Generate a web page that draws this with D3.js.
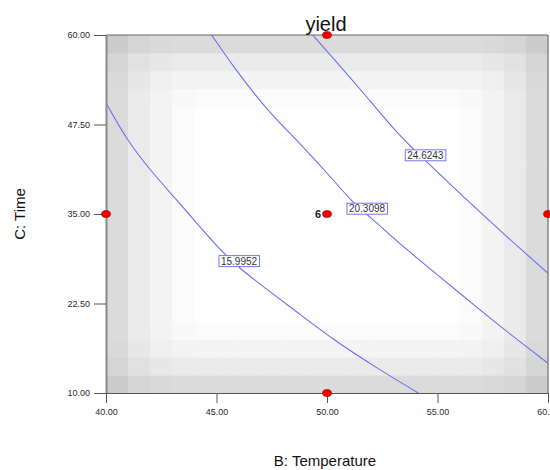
<!DOCTYPE html>
<html>
<head>
<meta charset="utf-8">
<script src="https://cdn.jsdelivr.net/npm/d3@7/dist/d3.min.js"></script>
<style>
  html, body { margin: 0; padding: 0; background: #fff; }
  svg { display: block; font-family: "Liberation Sans", Arial, sans-serif; }
</style>
</head>
<body>
<svg id="chart" width="550" height="470"></svg>
<script>
// Factor ranges and axis ticks
const temperatureTicks = [40, 45, 50, 55, 60];
const timeTicks = [10, 22.5, 35, 47.5, 60];

// Contour levels of predicted yield
const contourLevels = [15.9952, 20.3098, 24.6243];

// Traced isolines, [Temperature, Time]
const contourLow = [
  [40, 50.54], [40.94, 45.34], [41.99, 41.15], [43.20, 36.96], [44.25, 33.2],
  [45.31, 29.51], [46.14, 27.18], [47.12, 24.85], [48.63, 21.35], [50.29, 17.40],
  [52.40, 13.21], [54.13, 10]
];
const contourMid = [
  [44.78, 60], [45.76, 55.57], [47.27, 49.53], [48.78, 44.87], [50.29, 39.75],
  [51.19, 36.50], [51.80, 35.0], [53.61, 29.97], [55.11, 26.24], [56.92, 21.59],
  [58.43, 17.86], [60, 14.15]
];
const contourHigh = [
  [49.35, 60], [50.29, 56.75], [51.80, 51.38], [53.30, 45.80], [54.51, 42.30],
  [56.32, 36.96], [58.13, 31.83], [60, 26.72]
];
const contourLabelSpots = [[46.02, 28.42], [51.81, 35.74], [54.45, 43.2]];

// Design points [Temperature, Time] and replicate count at the centre
const designPoints = [[50, 60], [40, 35], [50, 35], [60, 35], [50, 10]];
const centerPoint = [50, 35];
const centerRuns = 6;

// Standard-error shading: darkness by cell distance from the nearest edge
const edgeShade = [36, 21, 11, 4, 1, 0, 0, 0, 0, 0];
const gridCells = 20;

const svg = d3.select("#chart");
const x = d3.scaleLinear().domain([40, 60]).range([106, 548]);
const y = d3.scaleLinear().domain([10, 60]).range([393, 35]);

// Shaded background grid
const cellT = d3.scaleLinear().domain([0, gridCells]).range(x.domain());
const cellt = d3.scaleLinear().domain([0, gridCells]).range(y.domain());
const cells = [];
d3.range(gridCells).forEach(i => d3.range(gridCells).forEach(j => {
  const a = edgeShade[Math.min(i, gridCells - 1 - i)];
  const b = edgeShade[Math.min(j, gridCells - 1 - j)];
  cells.push({ i, j, dark: Math.sqrt(a * a + b * b) });
}));
svg.append("g").selectAll("rect").data(cells).join("rect")
  .attr("x", d => x(cellT(d.i)))
  .attr("y", d => y(cellt(d.j + 1)))
  .attr("width", d => x(cellT(d.i + 1)) - x(cellT(d.i)) + 0.5)
  .attr("height", d => y(cellt(d.j)) - y(cellt(d.j + 1)) + 0.5)
  .attr("fill", d => { const v = Math.round(255 - d.dark); return d3.rgb(v, v, v); });

// Contour lines
svg.append("clipPath").attr("id", "plotClip").append("rect")
  .attr("x", x(40)).attr("y", y(60)).attr("width", x(60) - x(40)).attr("height", y(10) - y(60));
const line = d3.line().x(d => x(d[0])).y(d => y(d[1])).curve(d3.curveBasis);
const contours = [contourLow, contourMid, contourHigh];
svg.append("g").attr("clip-path", "url(#plotClip)")
  .selectAll("path").data(contours).join("path")
  .attr("d", line)
  .attr("fill", "none")
  .attr("stroke", "#6a6af4")
  .attr("stroke-width", 1.05);

// Frame: top and right edges
svg.append("line").attr("x1", x(40)).attr("x2", x(60)).attr("y1", y(60)).attr("y2", y(60))
  .attr("stroke", "#666").attr("stroke-width", 1);
svg.append("line").attr("x1", x(60)).attr("x2", x(60)).attr("y1", y(60)).attr("y2", y(10))
  .attr("stroke", "#888").attr("stroke-width", 1.5);

// Axes
const fmt = d3.format(".2f");
const yAxis = svg.append("g").attr("transform", `translate(${x(40)},0)`)
  .call(d3.axisLeft(y).tickValues(timeTicks).tickFormat(fmt).tickSize(12).tickSizeOuter(0).tickPadding(4));
const xAxis = svg.append("g").attr("transform", `translate(0,${y(10)})`)
  .call(d3.axisBottom(x).tickValues(temperatureTicks).tickFormat(fmt).tickSize(10).tickSizeOuter(0).tickPadding(6));
yAxis.select(".domain").attr("stroke", "#8a8a8a").attr("stroke-width", 2);
xAxis.select(".domain").attr("stroke", "#555").attr("stroke-width", 1.2);
[yAxis, xAxis].forEach(g => {
  g.selectAll(".tick line").attr("stroke", "#555");
  g.selectAll(".tick text").attr("fill", "#2a2a2a").style("font-size", "9px")
    .style("font-family", "'Liberation Sans', Arial, sans-serif");
});

// Contour value labels
const labels = svg.append("g").selectAll("g").data(contourLevels).join("g")
  .attr("transform", (d, k) => `translate(${x(contourLabelSpots[k][0])},${y(contourLabelSpots[k][1])})`);
labels.append("rect");
labels.append("text")
  .attr("text-anchor", "middle").attr("dy", "0.36em")
  .style("font-size", "10px").attr("fill", "#333")
  .text(d => d.toFixed(4));
labels.each(function () {
  const g = d3.select(this);
  const bb = g.select("text").node().getBBox();
  g.select("rect")
    .attr("x", bb.x - 2).attr("y", -5.5)
    .attr("width", bb.width + 4).attr("height", 11)
    .attr("fill", "#fff").attr("stroke", "#7474f4").attr("stroke-width", 1);
});

// Design points
svg.append("g").selectAll("ellipse").data(designPoints).join("ellipse")
  .attr("cx", d => x(d[0])).attr("cy", d => y(d[1]))
  .attr("rx", 4.5).attr("ry", 3.5)
  .attr("fill", "#f00000").attr("stroke", "#a00000").attr("stroke-width", 0.6);
svg.append("text")
  .attr("x", x(centerPoint[0]) - 6).attr("y", y(centerPoint[1]))
  .attr("dy", "0.36em").attr("text-anchor", "end")
  .style("font-size", "11px").style("font-weight", "bold").attr("fill", "#222")
  .text(centerRuns);

// Titles
svg.append("text").attr("x", 326).attr("y", 31).attr("text-anchor", "middle")
  .style("font-size", "20px").attr("fill", "#111").text("yield");
svg.append("text").attr("x", 325).attr("y", 466).attr("text-anchor", "middle")
  .style("font-size", "15px").attr("fill", "#111").text("B: Temperature");
svg.append("text").attr("transform", "translate(25,214) rotate(-90)").attr("text-anchor", "middle")
  .style("font-size", "15px").attr("fill", "#111").text("C: Time");
</script>
</body>
</html>
